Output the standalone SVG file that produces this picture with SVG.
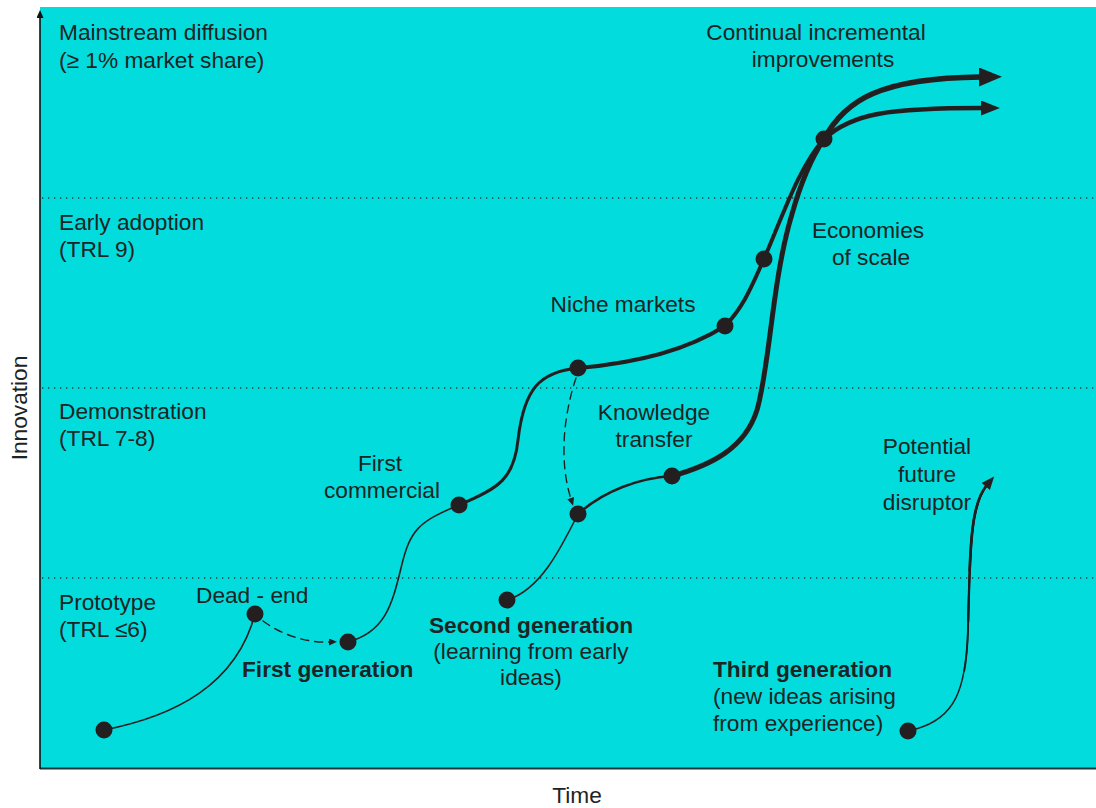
<svg xmlns="http://www.w3.org/2000/svg" width="1096" height="808" viewBox="0 0 1096 808">
  <style>
    text { font-family: "Liberation Sans", Arial, sans-serif; font-size: 22.7px; fill: #1c2425; }
    .b { font-weight: bold; }
    .m { text-anchor: middle; }
    .band { stroke: #2a3a3a; stroke-width: 1.3; stroke-dasharray: 1.3 4.7; fill: none; }
    .ln { fill: none; stroke: #231f20; stroke-linecap: round; }
    .taper { fill: none; stroke: #231f20; stroke-linecap: butt; }
    .dot { fill: #231f20; }
  </style>
  <defs>
    <marker id="arrowBig" markerUnits="userSpaceOnUse" markerWidth="24" markerHeight="20" refX="2" refY="9.5" orient="auto">
      <path d="M0,0 L23,9.5 L0,19 z" fill="#231f20"/>
    </marker>
    <marker id="arrowMed" markerUnits="userSpaceOnUse" markerWidth="20" markerHeight="16" refX="2" refY="7.5" orient="auto">
      <path d="M0,0 L19,7.5 L0,15 z" fill="#231f20"/>
    </marker>
    <marker id="arrowSm" markerUnits="userSpaceOnUse" markerWidth="14" markerHeight="12" refX="2" refY="5.5" orient="auto">
      <path d="M0,0 L13,5.5 L0,11 z" fill="#231f20"/>
    </marker>
    <marker id="arrowTiny" markerUnits="userSpaceOnUse" markerWidth="9" markerHeight="8" refX="1" refY="3.5" orient="auto">
      <path d="M0,0 L8,3.5 L0,7 z" fill="#231f20"/>
    </marker>
    <marker id="axisHead" markerUnits="userSpaceOnUse" markerWidth="8" markerHeight="8" refX="1" refY="3.5" orient="auto">
      <path d="M0,0 L8,3.5 L0,7 z" fill="#111"/>
    </marker>
    <!-- curve of the third-generation path, reused for its tapering strokes -->
    <path id="thirdCurve" d="M916,729 C955,718 966,690 968,630 C970,550 970,505 987,485"/>
  </defs>

  <!-- plot area -->
  <rect x="40" y="7" width="1056" height="761" fill="#03dcdc"/>
  <g id="axes">
    <line x1="40" y1="768.5" x2="1096" y2="768.5" stroke="#17393b" stroke-width="2"/>
    <line x1="40" y1="769" x2="40" y2="17" stroke="#111" stroke-width="1.6" marker-end="url(#axisHead)"/>
    <text class="m" x="577" y="803">Time</text>
    <text class="m" transform="translate(27,408) rotate(-90)">Innovation</text>
  </g>

  <!-- stage bands -->
  <g id="bands">
    <line class="band" x1="42" y1="198" x2="1096" y2="198"/>
    <line class="band" x1="42" y1="388" x2="1096" y2="388"/>
    <line class="band" x1="42" y1="578" x2="1096" y2="578"/>
    <text x="59" y="40">Mainstream diffusion</text>
    <text x="59" y="68">(≥ 1% market share)</text>
    <text x="59" y="230">Early adoption</text>
    <text x="59" y="257">(TRL 9)</text>
    <text x="59" y="419">Demonstration</text>
    <text x="59" y="446">(TRL 7-8)</text>
    <text x="59" y="610">Prototype</text>
    <text x="59" y="637">(TRL ≤6)</text>
  </g>

  <!-- connectors -->
  <g id="connectors">
    <!-- first generation -->
    <path class="ln" stroke-width="1.6" d="M104,730 C175,716 236,685 255,614"/>
    <path class="ln" stroke-width="1.4" stroke-dasharray="8 6" d="M263,621 C285,637 310,643 330,642" marker-end="url(#arrowTiny)"/>
    <path class="ln" stroke-width="1.6" d="M348,642 C385,632 392,605 401,568 C410,530 418,522 459,505"/>
    <path class="ln" stroke-width="3" d="M459,505 C500,488 514,478 518,440 C524,388 540,372 578,368"/>
    <path class="ln" stroke-width="4" d="M578,368 C650,362 695,345 725,326 C745,305 752,285 764,259 C783,215 800,165 824,139"/>
    <path class="ln" stroke-width="4.5" d="M824,139 C852,113 890,108 983,108" marker-end="url(#arrowMed)"/>
    <!-- knowledge transfer -->
    <path class="ln" stroke-width="1.4" stroke-dasharray="8 6" d="M576,378 C562,420 560,465 571,499" marker-end="url(#arrowTiny)"/>
    <!-- second generation -->
    <path class="ln" stroke-width="1.6" d="M507,600 C540,590 560,550 578,514"/>
    <path class="ln" stroke-width="2.6" d="M578,514 C605,490 640,478 672,476"/>
    <path class="ln" stroke-width="5" d="M672,476 C712,465 745,448 757,410 C770,365 772,280 792,214 C801,182 810,160 824,139"/>
    <path class="ln" stroke-width="5.5" d="M824,139 C845,100 880,78 981,77" marker-end="url(#arrowBig)"/>
    <!-- third generation: stroke thickens towards the arrow -->
    <use href="#thirdCurve" class="ln" stroke-width="1.5" marker-end="url(#arrowSm)"/>
    <use href="#thirdCurve" class="taper" stroke-width="1.9" stroke-dasharray="0 80 1000 0"/>
    <use href="#thirdCurve" class="taper" stroke-width="2.3" stroke-dasharray="0 130 1000 0"/>
    <use href="#thirdCurve" class="taper" stroke-width="2.7" stroke-dasharray="0 180 1000 0"/>
  </g>

  <!-- nodes -->
  <g id="n-start"><circle class="dot" cx="104" cy="730" r="8.5"/></g>
  <g id="n-deadend"><circle class="dot" cx="255" cy="614" r="8.5"/><text x="196" y="603">Dead - end</text></g>
  <g id="n-first-gen"><circle class="dot" cx="348" cy="642" r="8.5"/><text class="b" x="242" y="677">First generation</text></g>
  <g id="n-first-commercial"><circle class="dot" cx="459" cy="505" r="8.5"/><text class="m" x="380" y="471">First</text><text class="m" x="382" y="498">commercial</text></g>
  <g id="n-niche"><circle class="dot" cx="578" cy="368" r="8.5"/><text class="m" x="623" y="312">Niche markets</text></g>
  <g id="n-niche2"><circle class="dot" cx="725" cy="326" r="8.5"/></g>
  <g id="n-scale"><circle class="dot" cx="764" cy="259" r="8.5"/><text class="m" x="868" y="238">Economies</text><text class="m" x="871" y="265">of scale</text></g>
  <g id="n-mainstream"><circle class="dot" cx="824" cy="139" r="8.5"/><text class="m" x="816" y="40">Continual incremental</text><text class="m" x="823" y="67">improvements</text></g>
  <g id="n-second-gen"><circle class="dot" cx="507" cy="600" r="8.5"/><text class="b m" x="531" y="633">Second generation</text><text class="m" x="531" y="659">(learning from early</text><text class="m" x="531" y="685">ideas)</text></g>
  <g id="n-transfer"><circle class="dot" cx="578" cy="514" r="8.5"/><text class="m" x="654" y="420">Knowledge</text><text class="m" x="654" y="447">transfer</text></g>
  <g id="n-transfer2"><circle class="dot" cx="672" cy="476" r="8.5"/></g>
  <g id="n-third-gen"><circle class="dot" cx="908" cy="731" r="8.5"/><text class="b" x="713" y="677">Third generation</text><text x="713" y="704">(new ideas arising</text><text x="713" y="731">from experience)</text></g>
  <g id="n-disruptor"><text class="m" x="927" y="454">Potential</text><text class="m" x="927" y="482">future</text><text class="m" x="927" y="510">disruptor</text></g>
</svg>
